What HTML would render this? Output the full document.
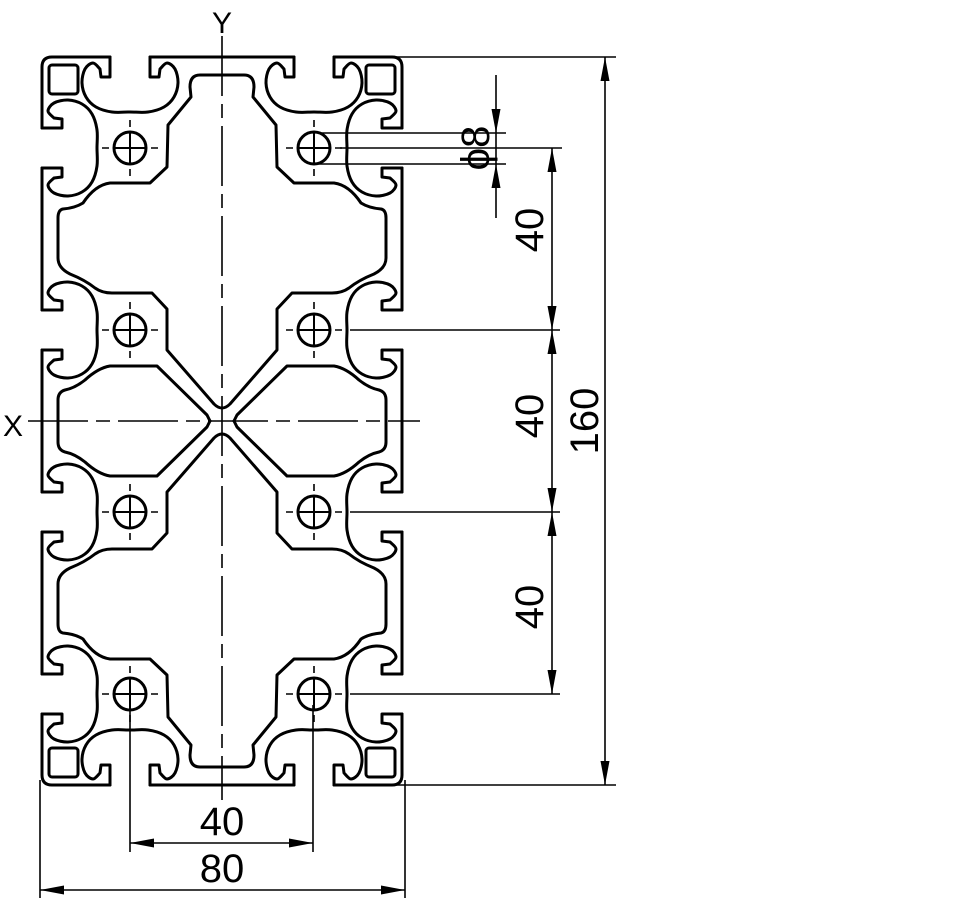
<!DOCTYPE html>
<html><head><meta charset="utf-8"><style>
html,body{margin:0;padding:0;background:#fff}
svg{display:block}
text{font-family:"Liberation Sans",sans-serif;fill:#000}
</style></head><body>
<svg id="s" width="970" height="898" viewBox="0 0 970 898" xmlns="http://www.w3.org/2000/svg">
<defs>
<g id="q" fill="none" stroke="#000" stroke-width="3" stroke-linejoin="round" stroke-linecap="round">
  <path d="M110,57 L52,57 Q42,57 42,67 L42,128"/>
  <path d="M150,57 L222,57"/>
  <path d="M42,168 L42,310"/>
  <path d="M42,350 L42,421"/>
  <rect x="49" y="65" width="29" height="29" rx="3"/>
  <path d="M222,75 L200,75 Q190,75 190,87 L191,97 L168,125 L167,167 L150,183 L110,183 Q95,185 83,203 Q75,208 63,209 Q58,210 58,218 L58,258 Q58,268 70,274 Q85,280 95,288 Q102,293 112,293 L152,293 L167,309 L167,350 L214,404 Q218,408 222,408"/>
  <path d="M210,421 L207,415 L157,366 L110,366 Q98,368 85,380 Q75,388 65,390 Q58,392 58,400 L58,421"/>
  <g id="slots"></g>
  <g id="hole1" transform="translate(130,148)">
    <circle r="16"/>
    <path d="M-16,0H16M0,-16V16" stroke-width="2"/>
    <path d="M-28,0H-21M21,0H28M0,-28V-21M0,21V28" stroke-width="1.6" stroke-linecap="butt"/>
  </g>
  <use href="#hole1" transform="translate(0,182)"/>
</g>
<marker id="ar" viewBox="0 0 24 9" refX="24" refY="4.5" markerWidth="24" markerHeight="9" markerUnits="userSpaceOnUse" orient="auto-start-reverse">
  <path d="M0,0 L24,4.5 L0,9 Z" fill="#000"/>
</marker>
</defs>
<use href="#q"/>
<use href="#q" transform="matrix(-1 0 0 1 444 0)"/>
<use href="#q" transform="matrix(1 0 0 -1 0 842)"/>
<use href="#q" transform="matrix(-1 0 0 -1 444 842)"/>

<g stroke="#000" stroke-width="1.6" fill="none">
  <path d="M222,36 V800" stroke-dasharray="60 8 14 8"/>
  <path d="M28,421 H420" stroke-dasharray="60 8 14 8"/>
</g>
<text x="222" y="33" font-size="30" text-anchor="middle">Y</text>
<text x="13" y="436" font-size="30" text-anchor="middle">X</text>

<g stroke="#000" stroke-width="1.6" fill="none">
  <path d="M340,148 H562"/>
  <path d="M350,330 H560"/>
  <path d="M350,512 H560"/>
  <path d="M350,694 H560"/>
  <path d="M318,133 H506"/>
  <path d="M318,164 H506"/>
  <path d="M395,57 H616"/>
  <path d="M395,785 H616"/>
  <path d="M130,705 V852"/>
  <path d="M313,705 V852"/>
  <path d="M40,780 V898"/>
  <path d="M405,780 V898"/>
  <path d="M496,75 V133" marker-end="url(#ar)"/>
  <path d="M496,218 V164" marker-end="url(#ar)"/>
  <path d="M496,133 V164"/>
  <path d="M552,148 V330" marker-start="url(#ar)" marker-end="url(#ar)"/>
  <path d="M552,330 V512" marker-start="url(#ar)" marker-end="url(#ar)"/>
  <path d="M552,512 V694" marker-start="url(#ar)" marker-end="url(#ar)"/>
  <path d="M605,57 V785" marker-start="url(#ar)" marker-end="url(#ar)"/>
  <path d="M130,843 H313" marker-start="url(#ar)" marker-end="url(#ar)"/>
  <path d="M40,890 H405" marker-start="url(#ar)" marker-end="url(#ar)"/>
</g>
<g font-size="40">
  <text transform="translate(489,148) rotate(-90)" text-anchor="middle">ϕ8</text>
  <text transform="translate(543,230) rotate(-90)" text-anchor="middle">40</text>
  <text transform="translate(543,416) rotate(-90)" text-anchor="middle">40</text>
  <text transform="translate(543,607) rotate(-90)" text-anchor="middle">40</text>
  <text transform="translate(598,421) rotate(-90)" text-anchor="middle">160</text>
  <text x="222" y="835" text-anchor="middle">40</text>
  <text x="222" y="882" text-anchor="middle">80</text>
</g>
</svg>
<script>
(function(){
  var A=[[0,-20],[20,-20],[20,-29],[12,-30]];
  var C=[[12,-30],[6,-37],[12,-45],[26,-48],[40,-44],[50,-34],[55,-18],[55,0],[55,18],[50,34],[40,44],[26,48],[12,45],[6,37],[12,30]];
  var B=[[12,30],[20,29],[20,20],[0,20]];
  var g=document.getElementById('slots');
  function add(f){
    var P=function(p){var r=f(p[0],p[1]);return r;};
    var d='M'+A.map(function(p){var r=P(p);return r[0].toFixed(1)+','+r[1].toFixed(1);}).join(' L');
    var pts=C.map(P);
    for(var i=0;i<pts.length-1;i++){
      var p0=pts[Math.max(0,i-1)],p1=pts[i],p2=pts[i+1],p3=pts[Math.min(pts.length-1,i+2)];
      var c1=[p1[0]+(p2[0]-p0[0])/6,p1[1]+(p2[1]-p0[1])/6];
      var c2=[p2[0]-(p3[0]-p1[0])/6,p2[1]-(p3[1]-p1[1])/6];
      d+=' C'+c1[0].toFixed(1)+','+c1[1].toFixed(1)+' '+c2[0].toFixed(1)+','+c2[1].toFixed(1)+' '+p2[0].toFixed(1)+','+p2[1].toFixed(1);
    }
    B.slice(1).forEach(function(p){var r=P(p);d+=' L'+r[0].toFixed(1)+','+r[1].toFixed(1);});
    var e=document.createElementNS('http://www.w3.org/2000/svg','path');
    e.setAttribute('d',d);g.appendChild(e);
  }
  add(function(u,v){return [42+u,148+v];});
  add(function(u,v){return [42+u,330+v];});
  add(function(u,v){return [130+v,57+u];});
})();
</script>
</body></html>
